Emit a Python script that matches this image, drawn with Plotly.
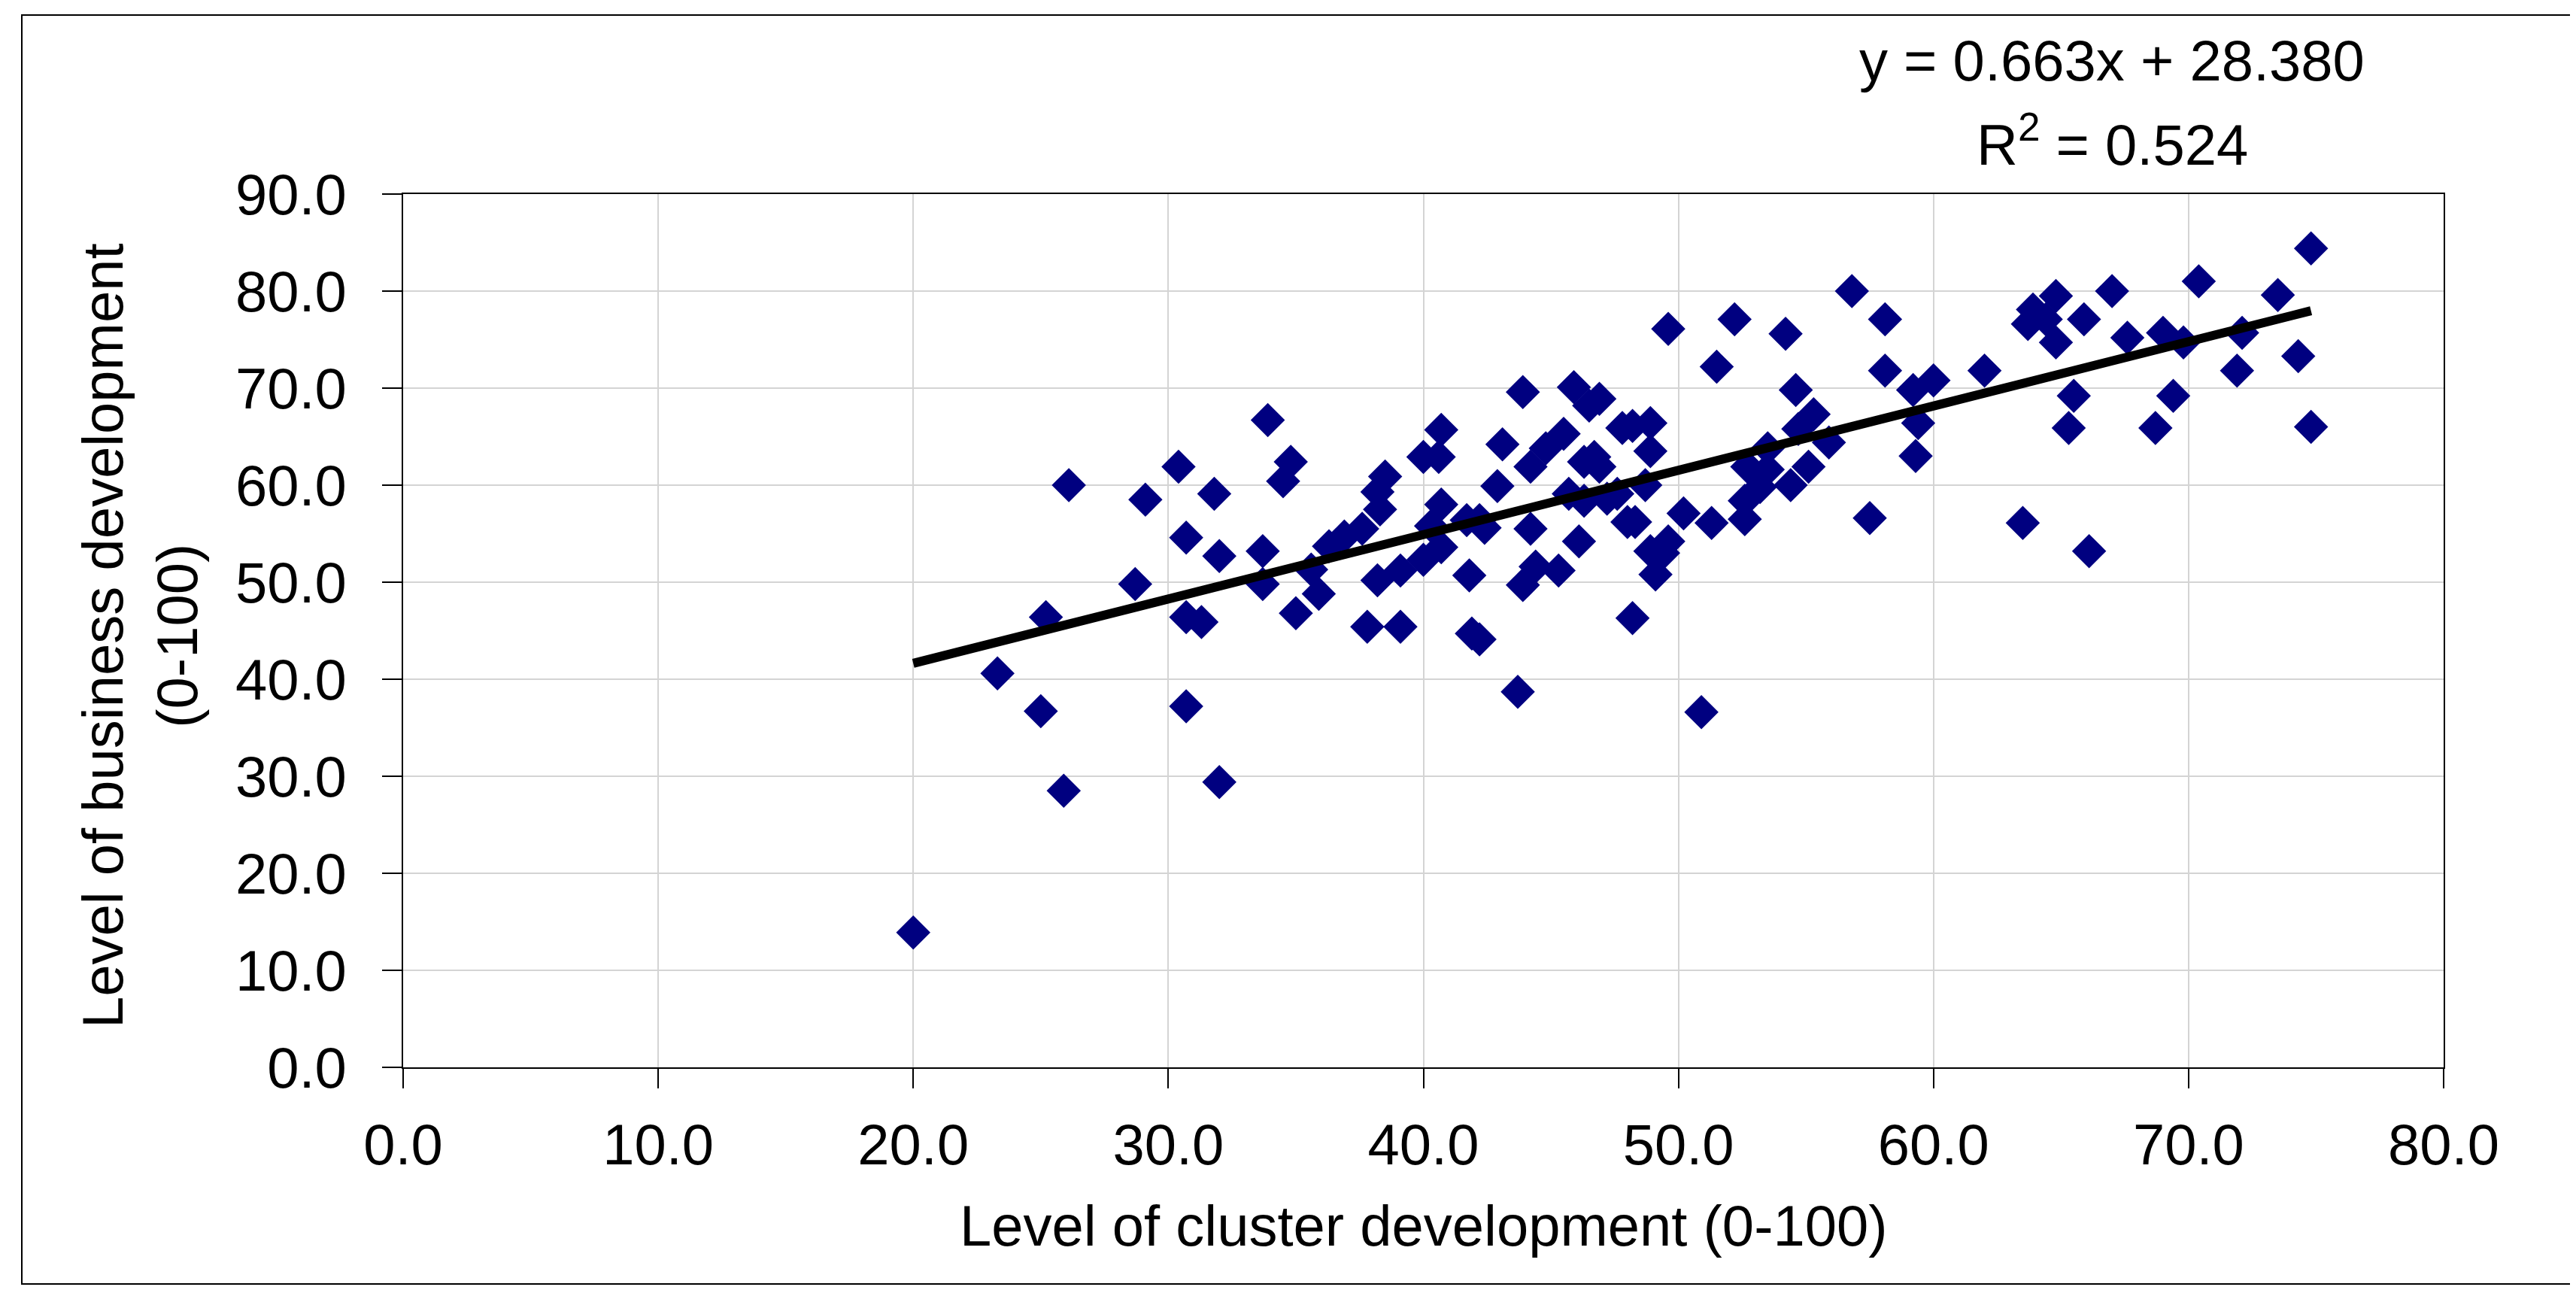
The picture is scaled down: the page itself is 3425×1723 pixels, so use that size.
import plotly.graph_objects as go

# Data
cluster_dev = [20.0, 23.3, 25.0, 25.2, 25.9, 26.1, 28.7, 29.1, 30.4, 30.7, 30.7, 30.7, 31.3, 31.8, 32.0, 32.0,
               33.7, 33.7, 33.9, 34.5, 34.8, 35.0, 35.6, 35.9, 36.3, 36.9, 37.6, 37.8, 38.2, 38.2, 38.3, 38.5,
               39.1, 39.1, 40.0, 40.0, 40.3, 40.6, 40.7, 40.7, 40.7, 41.7, 41.8, 41.9, 42.2, 42.2, 42.4, 42.9,
               43.1, 43.7, 43.9, 43.9, 44.2, 44.2, 44.4, 44.8, 45.3, 45.5, 45.7, 45.9, 46.1, 46.3, 46.3, 46.5,
               46.7, 46.9, 46.9, 47.2, 47.6, 47.8, 48.0, 48.2, 48.2, 48.3, 48.7, 48.9, 48.9, 48.9, 49.1, 49.4,
               49.6, 49.6, 50.2, 50.9, 51.3, 51.5, 52.2, 52.6, 52.6, 52.7, 53.2, 53.5, 53.5, 54.2, 54.4, 54.6,
               54.7, 55.1, 55.3, 55.9, 56.8, 57.5, 58.1, 58.1, 59.2, 59.3, 59.4, 60.0, 62.0, 63.5, 63.7, 63.9,
               64.4, 64.8, 64.8, 65.3, 65.5, 65.9, 66.1, 67.0, 67.6, 68.7, 69.0, 69.4, 69.8, 70.4, 71.9, 72.1,
               73.5, 74.3, 74.8, 74.8]
business_dev = [13.9, 40.6, 36.7, 46.4, 28.5, 60.0, 49.8, 58.5, 61.9, 54.6, 46.4, 37.2, 45.9, 59.1, 52.7, 29.4,
                53.2, 49.8, 66.7, 60.4, 62.4, 46.8, 51.3, 48.8, 53.7, 54.7, 55.5, 45.4, 50.2, 59.3, 57.5, 60.9,
                51.2, 45.4, 52.3, 62.9, 55.8, 62.9, 53.6, 58.0, 65.7, 56.4, 50.7, 44.7, 44.1, 56.4, 55.6, 59.9,
                64.2, 38.7, 69.6, 49.7, 55.5, 61.9, 51.6, 63.8, 51.2, 65.3, 59.1, 70.1, 54.2, 62.4, 58.4, 68.2,
                62.9, 68.9, 61.9, 58.6, 59.1, 65.9, 56.2, 66.1, 46.3, 56.2, 60.0, 66.4, 63.5, 53.2, 50.8, 53.0,
                54.2, 76.1, 57.1, 36.6, 56.1, 72.2, 77.1, 58.4, 56.5, 61.9, 59.8, 63.8, 61.6, 75.6, 60.0, 69.8,
                65.8, 61.9, 67.3, 64.4, 80.0, 56.6, 77.1, 71.8, 69.8, 63.0, 66.4, 70.8, 71.8, 56.1, 76.6, 78.1,
                77.1, 79.5, 74.7, 65.9, 69.2, 77.1, 53.2, 80.0, 75.2, 65.9, 75.7, 69.2, 74.7, 81.0, 71.8, 75.7,
                79.6, 73.3, 84.4, 66.0]

slope = 0.663
intercept = 28.380
r_squared = 0.524

x_ticks = [0, 10, 20, 30, 40, 50, 60, 70, 80]
y_ticks = [0, 10, 20, 30, 40, 50, 60, 70, 80, 90]

trend_x = [min(cluster_dev), max(cluster_dev)]
trend_y = [slope * v + intercept for v in trend_x]

FONT = "Liberation Sans, Arial, sans-serif"
FS = 76
L, R, T, B = 528, 184, 250, 312
W, H = 3425, 1723
PW, PH = W - L - R, H - T - B


def px_x(p):
    return (p - L) / PW


def px_y(p):
    return (H - B - p) / PH


fig = go.Figure()
fig.add_trace(go.Scatter(
    x=cluster_dev, y=business_dev, mode="markers",
    marker=dict(symbol="diamond", size=35, color="#000080", line=dict(width=0)),
    showlegend=False, hoverinfo="x+y"))
fig.add_trace(go.Scatter(
    x=trend_x, y=trend_y, mode="lines",
    line=dict(color="black", width=12),
    showlegend=False, hoverinfo="skip"))

axis_common = dict(
    showline=True, linecolor="black", linewidth=2, mirror=True,
    showgrid=True, gridcolor="#d4d4d4", gridwidth=2,
    ticks="outside", ticklen=26, tickwidth=2, tickcolor="black",
    tickfont=dict(family=FONT, size=FS, color="black"),
    tickformat=".1f", zeroline=False,
)

fig.update_xaxes(range=[0, 80], tickvals=x_ticks, ticklabelstandoff=10, **axis_common)
fig.update_yaxes(range=[0, 90], tickvals=y_ticks, ticklabelstandoff=32, **axis_common)

# axis titles
fig.add_annotation(xref="paper", yref="paper", x=0.5, y=px_y(1621), xanchor="center", yanchor="middle",
                   text="Level of cluster development (0-100)", showarrow=False,
                   font=dict(family=FONT, size=FS, color="black"))
fig.add_annotation(xref="paper", yref="paper", x=px_x(178), y=px_y(837), xanchor="center", yanchor="middle",
                   text="Level of business development<br>(0-100)", showarrow=False, textangle=-90,
                   font=dict(family=FONT, size=FS, color="black"))

# regression equation
fig.add_annotation(xref="paper", yref="paper", x=px_x(2800), y=px_y(72), xanchor="center", yanchor="middle",
                   text=f"y = {slope:.3f}x + {intercept:.3f}", showarrow=False,
                   font=dict(family=FONT, size=FS, color="black"))
fig.add_annotation(xref="paper", yref="paper", x=px_x(2800), y=px_y(179), xanchor="center", yanchor="middle",
                   text=f"R<sup>2</sup> = {r_squared:.3f}", showarrow=False,
                   font=dict(family=FONT, size=FS, color="black"))

# outer chart border
fig.add_shape(type="rect", xref="paper", yref="paper",
              x0=px_x(21), x1=px_x(3414), y0=px_y(1699), y1=px_y(12),
              line=dict(color="black", width=2), fillcolor="rgba(0,0,0,0)", layer="below")

fig.update_layout(
    width=W, height=H, autosize=False,
    margin=dict(l=L, r=R, t=T, b=B),
    paper_bgcolor="white", plot_bgcolor="white",
    font=dict(family=FONT, size=FS, color="black"),
)

fig.write_html("out.html")
